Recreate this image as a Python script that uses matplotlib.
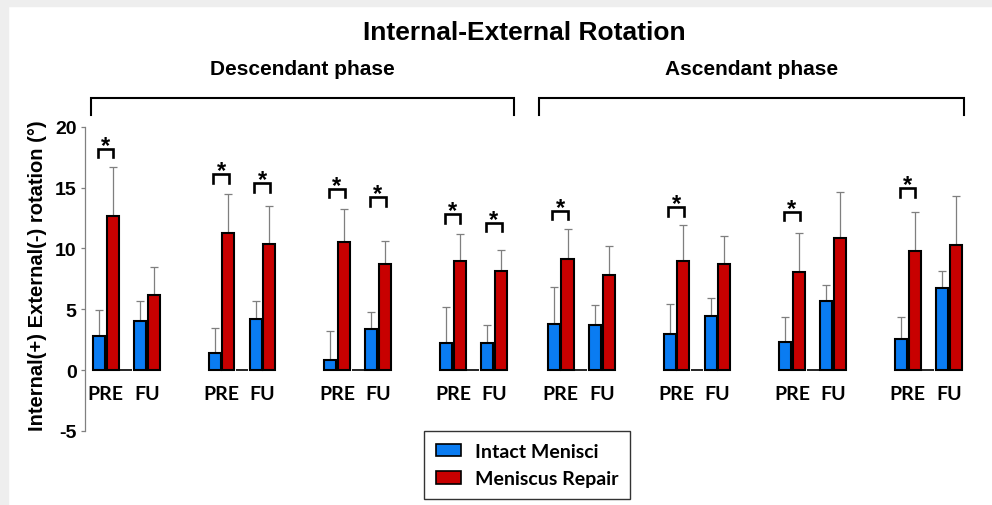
import numpy as np
import matplotlib
matplotlib.use("Agg")
import matplotlib.pyplot as plt
from matplotlib.patches import Patch, Rectangle

plt.rcParams["axes.unicode_minus"] = False

# mean and SD (degrees), 8 instants: 4 descendant + 4 ascendant
intact_pre = [2.8, 1.37, 0.82, 2.27, 3.83, 3.0, 2.33, 2.55]
intact_pre_sd = [2.1, 2.08, 2.36, 2.88, 3.04, 2.47, 2.07, 1.78]
repair_pre = [12.7, 11.25, 10.5, 8.95, 9.1, 8.98, 8.08, 9.75]
repair_pre_sd = [4.0, 3.25, 2.7, 2.2, 2.5, 2.92, 3.17, 3.21]
intact_fu = [4.0, 4.2, 3.42, 2.2, 3.72, 4.46, 5.64, 6.71]
intact_fu_sd = [1.7, 1.45, 1.38, 1.5, 1.62, 1.43, 1.34, 1.45]
repair_fu = [6.15, 10.35, 8.7, 8.15, 7.83, 8.7, 10.87, 10.27]
repair_fu_sd = [2.35, 3.15, 1.9, 1.75, 2.33, 2.3, 3.73, 4.03]

# significance brackets (height of bracket top, None = not significant)
sig_pre = [18.2, 16.1, 14.9, 12.8, 13.1, 13.4, 13.0, 14.95]
sig_fu = [None, 15.35, 14.2, 12.1, None, None, None, None]

phases = ["Descendant phase", "Ascendant phase"]
sessions = ["PRE", "FU"]
legend_labels = ["Intact Menisci", "Meniscus Repair"]

BLUE = "#0a7cf2"
RED = "#c80000"

fig = plt.figure(figsize=(9.92, 5.06), dpi=100)
fig.patches.append(Rectangle((0, 1 - 7 / 506), 1, 7 / 506, transform=fig.transFigure,
                             color="#eeeeee", zorder=0))
fig.patches.append(Rectangle((0, 0), 8 / 992, 1, transform=fig.transFigure,
                             color="#eeeeee", zorder=0))

ax = fig.add_axes([85 / 992, 74 / 506, 890 / 992, 304.3 / 506])

n = len(intact_pre)
group_step = 8.45
panel_shift = 0.58
starts = np.array([1.02 + i * group_step - (panel_shift if i >= 4 else 0) for i in range(n)])
w = 0.88

x_ipre, x_rpre, x_gap, x_ifu, x_rfu = (starts + k for k in range(5))

ax.bar(x_ipre, intact_pre, w, color=BLUE, edgecolor="black", linewidth=1.5, zorder=3)
ax.bar(x_rpre, repair_pre, w, color=RED, edgecolor="black", linewidth=1.5, zorder=3)
ax.bar(x_gap, np.zeros(n), w, color="none", edgecolor="black", linewidth=1.2, zorder=3)
ax.bar(x_ifu, intact_fu, w, color=BLUE, edgecolor="black", linewidth=1.5, zorder=3)
ax.bar(x_rfu, repair_fu, w, color=RED, edgecolor="black", linewidth=1.5, zorder=3)

for xs, m, sd in [(x_ipre, intact_pre, intact_pre_sd), (x_rpre, repair_pre, repair_pre_sd),
                  (x_ifu, intact_fu, intact_fu_sd), (x_rfu, repair_fu, repair_fu_sd)]:
    ax.errorbar(xs, m, yerr=[np.zeros(n), sd], fmt="none", ecolor="#7f7f7f",
                elinewidth=0.9, capsize=3, capthick=0.9, zorder=2)

def bracket(x1, x2, top):
    ax.plot([x1, x1, x2, x2], [top - 0.7, top, top, top - 0.7], color="black", lw=1.9,
            solid_joinstyle="miter", zorder=4)
    ax.text((x1 + x2) / 2, top - 0.25, "*", ha="center", va="baseline", fontsize=17,
            fontweight="bold", family="Liberation Sans")

for i in range(n):
    if sig_pre[i] is not None:
        bracket(x_ipre[i] - 0.1, x_rpre[i] + 0.05, sig_pre[i])
    if sig_fu[i] is not None:
        bracket(x_ifu[i] - 0.1, x_rfu[i] + 0.05, sig_fu[i])

# session labels
for i in range(n):
    ax.text((x_ipre[i] + x_rpre[i]) / 2, -1.95, sessions[0], ha="center", va="center",
            fontsize=14, fontweight="bold", family="Lato")
    ax.text((x_ifu[i] + x_rfu[i]) / 2, -1.95, sessions[1], ha="center", va="center",
            fontsize=14, fontweight="bold", family="Lato")

# phase brackets
for p, (g0, g1, lpad, rpad) in enumerate([(0, 3, 0.58, 0.95), (4, 7, 1.08, 0.64)]):
    left = starts[g0] - lpad
    right = starts[g1] + 4 + rpad
    ax.plot([left, left, right, right], [21.0, 22.35, 22.35, 21.0], color="black", lw=1.5,
            clip_on=False, solid_joinstyle="miter")
    ax.text((left + right) / 2, 24.8, phases[p], ha="center", va="center", fontsize=15,
            fontweight="bold", family="Liberation Sans")

ax.set_xlim(0, 65)
ax.set_ylim(-5, 20)
ax.set_yticks([-5, 0, 5, 10, 15, 20])
for s in ["top", "right", "bottom"]:
    ax.spines[s].set_visible(False)
ax.spines["left"].set_color("#808080")
ax.spines["left"].set_linewidth(0.9)
ax.tick_params(axis="y", length=3, width=0.9, color="#808080", pad=3)
ax.tick_params(axis="x", bottom=False, labelbottom=False)
for t in ax.get_yticklabels():
    t.set_fontsize(14)
    t.set_fontweight("bold")
    t.set_family("Liberation Sans")

ax.set_ylabel("Internal(+) External(-) rotation (°)", fontsize=14.5, fontweight="bold",
              family="Liberation Sans")
ax.yaxis.set_label_coords(-0.043, 0.513)

fig.text(0.529, 0.935, "Internal-External Rotation", ha="center", va="center",
         fontsize=19, fontweight="bold", family="Liberation Sans")

handles = [Patch(facecolor=BLUE, edgecolor="black", linewidth=1.2),
           Patch(facecolor=RED, edgecolor="black", linewidth=1.2)]
leg = fig.legend(handles, legend_labels, loc="upper left",
                 bbox_to_anchor=(424 / 992, 1 - 432 / 506), frameon=True, fancybox=False,
                 edgecolor="black", prop={"family": "Lato", "weight": "bold", "size": 14},
                 handlelength=1.3, handleheight=0.6, handletextpad=0.7,
                 labelspacing=0.55, borderpad=0.6, borderaxespad=0)
leg.get_frame().set_linewidth(1.0)

fig.savefig("out.png", dpi=100)
